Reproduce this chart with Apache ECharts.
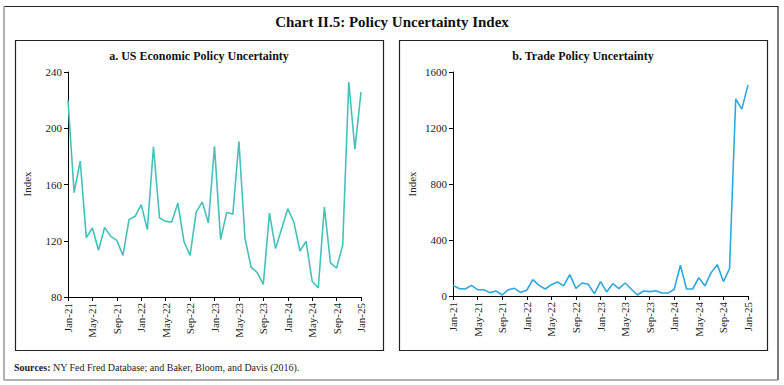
<!DOCTYPE html>
<html>
<head>
<meta charset="utf-8">
<script src="https://cdn.jsdelivr.net/npm/echarts@6/dist/echarts.min.js"></script>
<style>
html,body{margin:0;padding:0;background:#fff;}
#c{width:784px;height:385px;}
</style>
</head>
<body>
<div id="c"></div>
<script>
const months = ["Jan-21","Feb-21","Mar-21","Apr-21","May-21","Jun-21","Jul-21","Aug-21","Sep-21","Oct-21","Nov-21","Dec-21",
"Jan-22","Feb-22","Mar-22","Apr-22","May-22","Jun-22","Jul-22","Aug-22","Sep-22","Oct-22","Nov-22","Dec-22",
"Jan-23","Feb-23","Mar-23","Apr-23","May-23","Jun-23","Jul-23","Aug-23","Sep-23","Oct-23","Nov-23","Dec-23",
"Jan-24","Feb-24","Mar-24","Apr-24","May-24","Jun-24","Jul-24","Aug-24","Sep-24","Oct-24","Nov-24","Dec-24",
"Jan-25"];
const usEpu = [219.9,154.2,176.7,122.2,129.1,113.2,129.5,123.1,120.3,109.6,135.0,137.4,
145.7,127.9,186.7,136.2,133.8,133.3,146.8,119.4,109.6,140.4,147.6,132.6,
187.1,120.8,140.2,138.8,190.5,121.5,101.3,97.3,89.0,139.7,114.4,128.6,
142.8,133.3,112.7,119.6,91.2,86.4,144.0,104.2,100.6,116.7,232.9,185.2,
225.7];
const tpu = [76,53,50,76,45,45,24,36,7,45,55,26,
41,117,76,50,81,100,72,153,55,93,84,17,
103,29,88,53,93,50,7,36,31,38,21,21,
48,220,50,50,131,72,167,224,103,196,1407,1335,
1508];
const usTicks = [80,120,160,200,240];
const tpuTicks = [0,400,800,1200,1600];
const chartTitle = "Chart II.5: Policy Uncertainty Index";
const panelTitles = ["a. US Economic Policy Uncertainty","b. Trade Policy Uncertainty"];
const yName = "Index";
const sourceText = "NY Fed Fred Database; and Baker, Bloom, and Davis (2016).";

const FONT = "Liberation Serif";
const txt = "#222";

function xAxis(gi){
  return {
    type:'category', gridIndex:gi, data:months, boundaryGap:false,
    axisLine:{lineStyle:{color:'#000',width:1}},
    axisTick:{show:true, interval:3, length:4, lineStyle:{color:'#000'}},
    axisLabel:{interval:3, rotate:90, color:txt, fontFamily:FONT, fontSize:11, margin:6, hideOverlap:false},
    splitLine:{show:false}
  };
}
function yAxis(gi, ticks){
  return {
    type:'value', gridIndex:gi, min:ticks[0], max:ticks[ticks.length-1], interval:ticks[1]-ticks[0],
    axisLine:{show:true, lineStyle:{color:'#000',width:1}},
    axisTick:{show:true, length:4, lineStyle:{color:'#000'}},
    axisLabel:{show:true, color:txt, fontFamily:FONT, fontSize:11, margin:6, hideOverlap:false, formatter:(v)=>String(v)},
    splitLine:{show:false}
  };
}
function lineData(arr, labelText){
  return arr.map((v,i)=> i===arr.length-1 ? {value:v, label:{show:true, position:'top', offset:[4,2], formatter:labelText, color:txt, fontFamily:FONT, fontSize:11}} : v);
}

const chart = echarts.init(document.getElementById('c'), null, {renderer:'svg'});
chart.setOption({
  animation:false,
  backgroundColor:'#fff',
  grid:[
    {left:68, top:72, right:423, bottom:88},
    {left:453, top:72, right:36, bottom:89}
  ],
  xAxis:[xAxis(0), xAxis(1)],
  yAxis:[yAxis(0, usTicks), yAxis(1, tpuTicks)],
  series:[
    {type:'line', xAxisIndex:0, yAxisIndex:0, data:lineData(usEpu,'225.7'), symbol:'none', showSymbol:false,
     lineStyle:{color:'#45C1BA', width:1.6}, itemStyle:{color:'#45C1BA'}},
    {type:'line', xAxisIndex:1, yAxisIndex:1, data:lineData(tpu,'1508'), symbol:'none', showSymbol:false,
     lineStyle:{color:'#2FA8DF', width:1.6}, itemStyle:{color:'#2FA8DF'}}
  ],
  graphic:[
    {type:'line', shape:{x1:4,y1:6.5,x2:778,y2:6.5}, style:{stroke:'#222',lineWidth:1.2}},
    {type:'line', shape:{x1:778,y1:6,x2:778,y2:380}, style:{stroke:'#222',lineWidth:1.2}},
    {type:'line', shape:{x1:4,y1:6,x2:4,y2:380}, style:{stroke:'#999',lineWidth:1.5}},
    {type:'line', shape:{x1:4,y1:380,x2:778,y2:380}, style:{stroke:'#999',lineWidth:1.5}},
    {type:'rect', shape:{x:15.5,y:40.5,width:368,height:310}, style:{fill:'none',stroke:'#222',lineWidth:1.2}},
    {type:'rect', shape:{x:399.5,y:40.5,width:368,height:310}, style:{fill:'none',stroke:'#222',lineWidth:1.2}},
    {type:'text', x:392, y:22, style:{text:chartTitle, textAlign:'center', textVerticalAlign:'middle', fill:'#111', font:'bold 15px "Liberation Serif"'}},
    {type:'text', x:199, y:56, style:{text:panelTitles[0], textAlign:'center', textVerticalAlign:'middle', fill:'#111', font:'bold 12px "Liberation Serif"'}},
    {type:'text', x:583, y:56, style:{text:panelTitles[1], textAlign:'center', textVerticalAlign:'middle', fill:'#111', font:'bold 12px "Liberation Serif"'}},
    {type:'text', x:27, y:184, rotation:Math.PI/2, style:{text:yName, textAlign:'center', textVerticalAlign:'middle', fill:txt, font:'11px "Liberation Serif"'}},
    {type:'text', x:412, y:184, rotation:Math.PI/2, style:{text:yName, textAlign:'center', textVerticalAlign:'middle', fill:txt, font:'11px "Liberation Serif"'}},
    {type:'text', x:14, y:367, style:{text:'{b|Sources:} '+sourceText, textVerticalAlign:'middle', fill:'#222', font:'10px "Liberation Serif"', rich:{b:{fontWeight:'bold', fontFamily:FONT, fontSize:10, fill:'#222'}}}}
  ]
});
</script>
</body>
</html>
